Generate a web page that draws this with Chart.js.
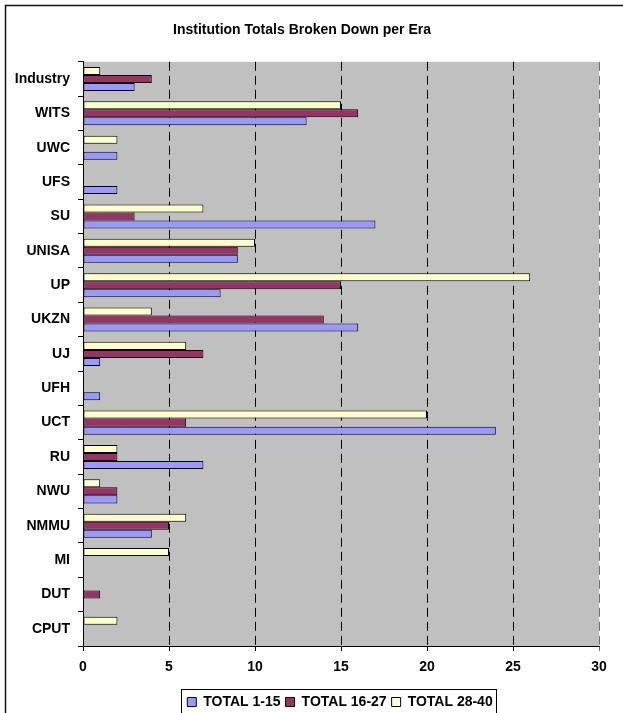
<!DOCTYPE html>
<html>
<head>
<meta charset="utf-8">
<script src="https://cdn.jsdelivr.net/npm/chart.js@4/dist/chart.umd.min.js"></script>
<style>
  body { margin: 0; background: #fff; }
  #wrap { width: 623px; height: 713px; }
</style>
</head>
<body>
<div id="wrap"><canvas id="eraChart" width="623" height="713"></canvas></div>
<script>
var institutions = ['Industry', 'WITS', 'UWC', 'UFS', 'SU', 'UNISA', 'UP', 'UKZN', 'UJ', 'UFH', 'UCT', 'RU', 'NWU', 'NMMU', 'MI', 'DUT', 'CPUT'];
var total1to15  = [3, 13, 2, 2, 17, 9, 8, 16, 1, 1, 24, 7, 2, 4, 0, 0, 0];
var total16to27 = [4, 16, 0, 0, 3, 9, 15, 14, 7, 0, 6, 2, 2, 5, 0, 1, 0];
var total28to40 = [1, 15, 2, 0, 7, 10, 26, 4, 6, 0, 20, 2, 1, 6, 5, 0, 2];
var xTicks = [0, 5, 10, 15, 20, 25, 30];

var font = '"Liberation Sans", Arial, sans-serif';

// grey plot area, outer frame (cut off at right/bottom) and box round the legend
var chartDecor = {
    id: 'chartDecor',
    afterLayout: function (chart) {
        // legend sits right of centre in the original
        chart.legend.left += 38;
        chart.legend.right += 38;
    },
    beforeDraw: function (chart) {
        var c = chart.ctx, a = chart.chartArea;
        c.save();
        c.fillStyle = '#fff';
        c.fillRect(0, 0, chart.width, chart.height);
        c.fillStyle = '#c0c0c0';
        c.fillRect(a.left, a.top, a.right - a.left, a.bottom - a.top);
        c.restore();
    },
    afterDraw: function (chart) {
        var c = chart.ctx;
        c.save();
        c.strokeStyle = '#111';
        c.lineWidth = 1.5;
        c.beginPath();
        c.moveTo(5.5, chart.height);
        c.lineTo(5.5, 5.5);
        c.lineTo(chart.width, 5.5);
        c.stroke();
        c.lineWidth = 1;
        c.strokeStyle = '#000';
        var boxes = chart.legend.legendHitBoxes;
        if (boxes && boxes.length) {
            var l = Math.min.apply(null, boxes.map(function (b) { return b.left; }));
            var r = Math.max.apply(null, boxes.map(function (b) { return b.left + b.width; }));
            var t = boxes[0].top;
            var h = boxes[0].height;
            c.strokeRect(Math.round(l) - 5.5, Math.round(t) - 5.5, Math.round(r - l) + 10, h + 12);
        }
        c.restore();
    }
};

new Chart(document.getElementById('eraChart').getContext('2d'), {
    type: 'bar',
    data: {
        labels: institutions,
        datasets: [
            { label: 'TOTAL 28-40', data: total28to40, backgroundColor: '#ffffcc' },
            { label: 'TOTAL 16-27', data: total16to27, backgroundColor: '#993366' },
            { label: 'TOTAL 1-15', data: total1to15, backgroundColor: '#9999ff' }
        ]
    },
    options: {
        indexAxis: 'y',
        responsive: false,
        animation: false,
        layout: { padding: { top: 22, left: 5, right: 24, bottom: -6 } },
        datasets: {
            bar: {
                borderColor: '#000',
                borderWidth: 1,
                borderSkipped: false,
                categoryPercentage: 0.7,
                barPercentage: 1.0
            }
        },
        scales: {
            x: {
                min: 0,
                max: 30,
                afterBuildTicks: function (axis) {
                    axis.ticks = xTicks.map(function (v) { return { value: v }; });
                },
                afterFit: function (axis) {
                    axis.height = 44;
                },
                grid: {
                    color: function (ctx) {
                        return ctx.tick && ctx.tick.value === 30 ? '#707070' : '#000';
                    },
                    tickLength: 5,
                    lineWidth: 1
                },
                border: { display: true, color: '#000', dash: [9, 5] },
                ticks: {
                    color: '#000',
                    font: { family: font, size: 14, weight: 'bold' },
                    padding: 8
                }
            },
            y: {
                afterFit: function (axis) {
                    axis.width = 78;
                },
                grid: {
                    drawOnChartArea: false,
                    color: '#000',
                    tickLength: 5
                },
                border: { display: true, color: '#000' },
                ticks: {
                    color: '#000',
                    font: { family: font, size: 14, weight: 'bold' },
                    padding: 8
                }
            }
        },
        plugins: {
            title: {
                display: true,
                text: 'Institution Totals Broken Down per Era',
                color: '#000',
                font: { family: font, size: 14, weight: 'bold' },
                padding: { top: 0, bottom: 23 }
            },
            legend: {
                position: 'bottom',
                reverse: true,
                labels: {
                    color: '#000',
                    font: { family: font, size: 14, weight: 'bold' },
                    boxWidth: 9,
                    boxHeight: 9,
                    padding: 5
                }
            },
            tooltip: { enabled: false }
        }
    },
    plugins: [chartDecor]
});
</script>
</body>
</html>
